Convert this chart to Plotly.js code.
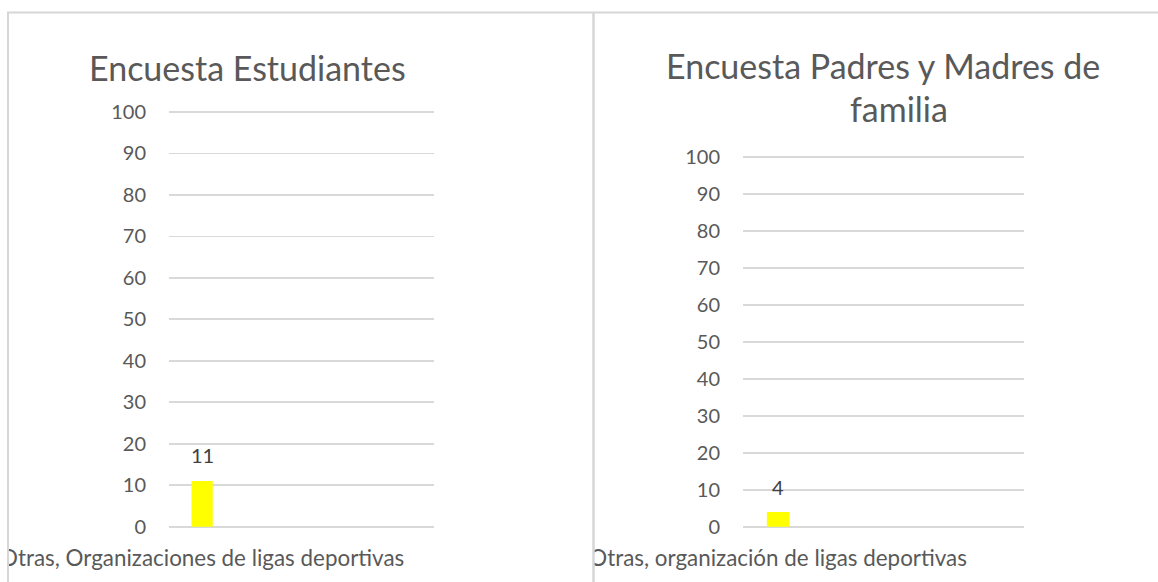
<!DOCTYPE html>
<html><head><meta charset="utf-8">
<script src="https://cdn.plot.ly/plotly-3.0.1.min.js"></script>
<style>html,body{margin:0;padding:0;background:#fff;overflow:hidden;} #chart{width:1158px;height:582px;}</style>
</head><body><div id="chart"></div>
<script>
// ---- data ----
const leftTitle = "Encuesta Estudiantes";
const rightTitleLines = ["Encuesta Padres y Madres de", "familia"];
const studentCategories = ["Otras, Organizaciones de ligas deportivas"];
const studentValues = [11];
const parentCategories = ["Otras, organización de ligas deportivas"];
const parentValues = [4];
const yTickValues = [0, 10, 20, 30, 40, 50, 60, 70, 80, 90, 100];

// ---- helpers ----
const W = 1158, H = 582;
const px = v => v / W;
const py = v => 1 - v / H;
const FONT = "Lato, 'Liberation Sans', sans-serif";
const GRAY = "#595959";
const GRID = "#d9d9d9";
const BORDER = "#d6d6d6";
const PAD = 0.5; // small range padding so the 0 and 100 gridlines are drawn

function yAxis(top, bottom, anchor) {
  const perUnit = (bottom - top) / 100;
  return {
    domain: [py(bottom + PAD * perUnit), py(top - PAD * perUnit)], anchor: anchor,
    range: [-PAD, 100 + PAD], autorange: false,
    tickvals: yTickValues, ticktext: yTickValues.map(String),
    showgrid: true, gridcolor: GRID, gridwidth: 1.8,
    zeroline: false, showline: false, ticks: "",
    ticklabelstandoff: 22,
    tickfont: {family: FONT, size: 20, color: GRAY},
    fixedrange: true
  };
}
function xAxis(domain, anchor, cats) {
  return {
    domain: domain, anchor: anchor, type: "category",
    categoryorder: "array", categoryarray: cats,
    range: [-0.5, 3.5], autorange: false,
    showgrid: false, zeroline: false, showline: false, ticks: "",
    ticklabelstandoff: 14,
    tickfont: {family: FONT, size: 22.4, color: GRAY},
    fixedrange: true
  };
}

const traces = [
  {type: "bar", x: studentCategories, y: studentValues, xaxis: "x", yaxis: "y",
   width: 0.32, marker: {color: "#ffff00", line: {width: 0}}, hoverinfo: "skip", showlegend: false},
  {type: "bar", x: parentCategories, y: parentValues, xaxis: "x2", yaxis: "y2",
   width: 0.32, marker: {color: "#ffff00", line: {width: 0}}, hoverinfo: "skip", showlegend: false}
];

const dataLabels = [];
studentCategories.forEach((c, i) => dataLabels.push({
  xref: "x", yref: "y", x: c, y: studentValues[i], text: String(studentValues[i]),
  showarrow: false, yanchor: "bottom", yshift: 12,
  font: {family: FONT, size: 20, color: "#404040"}
}));
parentCategories.forEach((c, i) => dataLabels.push({
  xref: "x2", yref: "y2", x: c, y: parentValues[i], text: String(parentValues[i]),
  showarrow: false, yanchor: "bottom", yshift: 11,
  font: {family: FONT, size: 20, color: "#404040"}
}));

const titleAnnotations = [
  {xref: "paper", yref: "paper", x: px(247.5), y: py(67), text: leftTitle,
   showarrow: false, xanchor: "center", yanchor: "middle",
   font: {family: FONT, size: 34, color: GRAY}},
  {xref: "paper", yref: "paper", x: px(883), y: py(65), text: rightTitleLines[0],
   showarrow: false, xanchor: "center", yanchor: "middle",
   font: {family: FONT, size: 34, color: GRAY}},
  {xref: "paper", yref: "paper", x: px(899), y: py(108), text: rightTitleLines[1],
   showarrow: false, xanchor: "center", yanchor: "middle",
   font: {family: FONT, size: 34, color: GRAY}}
];

const shapes = [
  // masks that clip the category labels at the table cell borders
  {type: "rect", xref: "paper", yref: "paper", x0: 0, x1: px(8), y0: 0, y1: py(532),
   fillcolor: "#ffffff", line: {width: 0}, layer: "above"},
  {type: "rect", xref: "paper", yref: "paper", x0: px(430), x1: px(593), y0: 0, y1: py(532),
   fillcolor: "#ffffff", line: {width: 0}, layer: "above"},
  // table borders
  {type: "line", xref: "paper", yref: "paper", x0: px(7), x1: 1, y0: py(12.5), y1: py(12.5),
   line: {color: BORDER, width: 2}, layer: "above"},
  {type: "line", xref: "paper", yref: "paper", x0: px(8), x1: px(8), y0: 0, y1: py(12),
   line: {color: BORDER, width: 2}, layer: "above"},
  {type: "line", xref: "paper", yref: "paper", x0: px(593.5), x1: px(593.5), y0: 0, y1: py(12),
   line: {color: BORDER, width: 2.5}, layer: "above"}
];

const layout = {
  width: W, height: H,
  margin: {l: 0, r: 0, t: 0, b: 0, pad: 0},
  paper_bgcolor: "#ffffff", plot_bgcolor: "#ffffff",
  showlegend: false,
  font: {family: FONT, color: GRAY},
  xaxis: xAxis([px(169), px(434)], "y", studentCategories),
  yaxis: yAxis(112, 526.7, "x"),
  xaxis2: xAxis([px(743), px(1024)], "y2", parentCategories),
  yaxis2: yAxis(156.7, 526.7, "x2"),
  annotations: titleAnnotations.concat(dataLabels),
  shapes: shapes
};

Plotly.newPlot("chart", traces, layout, {staticPlot: true, displayModeBar: false});
</script>
</body></html>
